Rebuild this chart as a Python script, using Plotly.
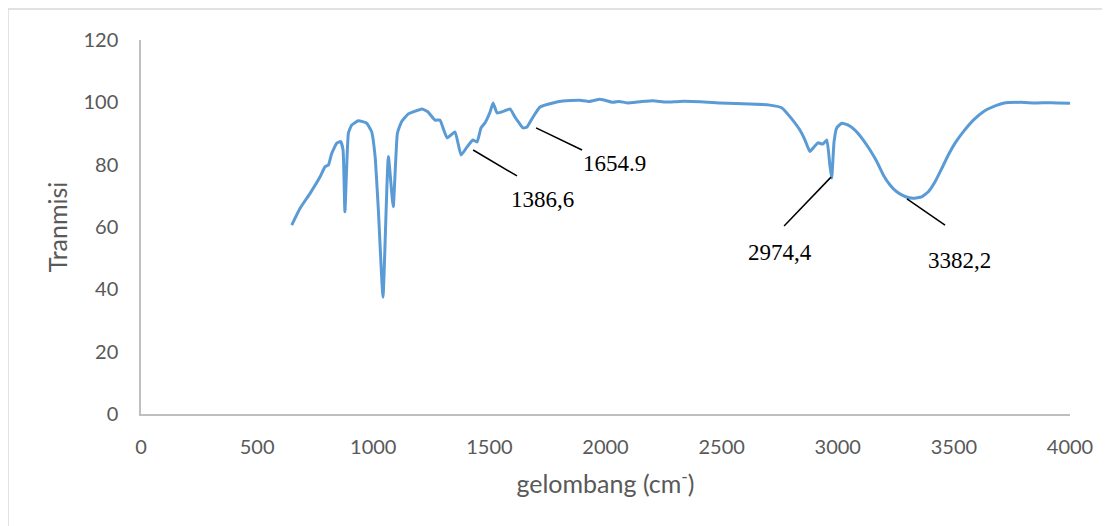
import plotly.graph_objects as go

# FTIR spectrum
wavenumber = [649, 685, 728, 771, 792, 807, 821, 843, 860, 870, 878, 893, 907, 936, 972, 993,
              1008, 1022, 1042, 1065, 1086, 1104, 1122, 1151, 1171, 1210, 1236, 1266, 1287,
              1318, 1352, 1378, 1404, 1429, 1447, 1464, 1481, 1503, 1516, 1533, 1563, 1589,
              1610, 1628, 1645, 1662, 1688, 1718, 1774, 1817, 1850, 1890, 1930, 1976, 1990,
              2032, 2060, 2093, 2150, 2205, 2260, 2320, 2407, 2493, 2560, 2622, 2708, 2760,
              2794, 2837, 2859, 2880, 2898, 2915, 2936, 2953, 2966, 2974, 2984, 2995, 3017,
              3045, 3074, 3110, 3139, 3168, 3196, 3225, 3254, 3292, 3325, 3361, 3390, 3419,
              3448, 3476, 3505, 3541, 3584, 3627, 3670, 3713, 3785, 3850, 3920, 4000]
transmittance = [60.6, 66.0, 70.8, 76.1, 79.3, 79.9, 83.6, 86.9, 87.4, 84.7, 64.9, 90.1, 92.7,
                 94.1, 93.3, 90.6, 82.6, 65.5, 37.5, 82.6, 66.5, 90.1, 93.8, 96.3, 96.9, 97.9,
                 96.9, 94.3, 94.3, 88.6, 90.5, 83.1, 85.7, 87.9, 87.3, 91.8, 93.4, 96.9, 99.8,
                 96.6, 97.2, 97.9, 95.3, 93.4, 91.8, 92.1, 95.3, 98.5, 99.8, 100.4, 100.6,
                 100.7, 100.3, 101.0, 100.8, 100.0, 100.3, 99.8, 100.2, 100.5, 100.1, 100.3,
                 100.2, 99.8, 99.6, 99.5, 99.1, 98.2, 95.4, 91.1, 87.9, 84.2, 85.7, 87.0, 86.6,
                 87.9, 79.9, 75.7, 87.3, 91.7, 93.3, 92.7, 91.1, 87.9, 84.7, 81.0, 76.7, 73.5,
                 71.3, 69.7, 69.2, 69.7, 71.3, 74.5, 78.8, 83.1, 86.9, 90.6, 94.3, 97.0, 98.6,
                 99.7, 100.0, 99.8, 99.9, 99.7]

# Peak annotations: label, peak point, leader end, text point
peak_labels = ["1386,6", "1654.9", "2974,4", "3382,2"]
peak_x = [1430, 1701, 2971, 3298]
peak_y = [84.7, 91.8, 76.0, 69.0]
leader_x = [1619, 1899, 2769, 3462]
leader_y = [76.4, 84.7, 60.3, 60.6]
text_x = [1727, 2037, 2751, 3526]
text_y = [68.7, 80.5, 51.7, 49.4]

x_ticks = [0, 500, 1000, 1500, 2000, 2500, 3000, 3500, 4000]
y_ticks = [0, 20, 40, 60, 80, 100, 120]

fig = go.Figure()
fig.add_trace(go.Scatter(x=wavenumber, y=transmittance, mode="lines",
                         line=dict(color="#5B9BD5", width=3, shape="spline", smoothing=0.4),
                         showlegend=False))

for lab, px, py, lx, ly, tx, ty in zip(peak_labels, peak_x, peak_y, leader_x, leader_y, text_x, text_y):
    fig.add_shape(type="line", x0=px, y0=py, x1=lx, y1=ly, xref="x", yref="y",
                  line=dict(color="black", width=1.5))
    fig.add_annotation(x=tx, y=ty, xref="x", yref="y", text=lab, showarrow=False,
                       font=dict(family="Liberation Serif", size=23, color="black"))

# outer chart border
fig.add_shape(type="rect", xref="paper", yref="paper", x0=-0.1432, y0=-0.6, x1=1.2, y1=1.0829,
              line=dict(color="#d9d9d9", width=1.5), fillcolor="rgba(0,0,0,0)", layer="below")

tick_font = dict(family="Lato", size=20, color="#595959")
title_font = dict(family="Lato", size=25, color="#595959")
fig.update_layout(
    width=1102, height=518,
    margin=dict(l=133, r=40, t=32, b=112),
    paper_bgcolor="white", plot_bgcolor="white",
    font=tick_font,
    xaxis=dict(range=[0, 4000], tickvals=x_ticks, showgrid=False, zeroline=False,
               showline=True, linecolor="#bfbfbf", linewidth=1.5,
               ticks="outside", ticklen=14, tickcolor="rgba(0,0,0,0)",
               tickfont=tick_font,
               title=dict(text="gelombang (cm<sup>-</sup>)", font=title_font, standoff=19)),
    yaxis=dict(range=[0, 120], tickvals=y_ticks, showgrid=False, zeroline=False,
               showline=True, linecolor="#bfbfbf", linewidth=1.5,
               ticks="outside", ticklen=17, tickcolor="rgba(0,0,0,0)",
               tickfont=tick_font,
               title=dict(text="Tranmisi", font=title_font, standoff=9)),
)

fig.write_html("out.html")
